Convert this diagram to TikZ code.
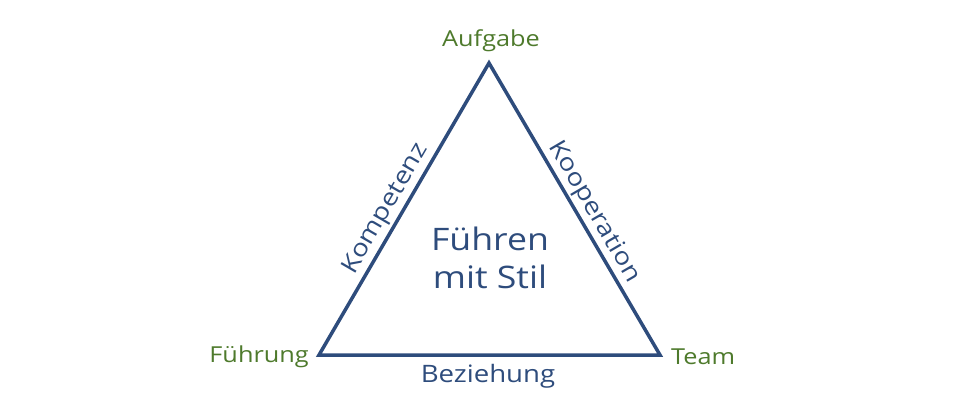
\documentclass[tikz,border=0pt]{standalone}
\usepackage{fontspec}
\setmainfont{Open Sans}[FakeStretch=1.15]
\definecolor{tblue}{HTML}{2E4C7C}
\definecolor{tgreen}{HTML}{4E7A2C}
\begin{document}
\begin{tikzpicture}[x=1pt,y=-1pt,
  corner/.style={text=tgreen,font=\fontsize{22}{26}\selectfont,inner sep=0pt},
  edgelab/.style={text=tblue,font=\fontsize{24}{28}\selectfont,inner sep=0pt},
  center/.style={text=tblue,font=\fontsize{31}{38}\selectfont,align=center,inner sep=0pt},
  side/.style={draw=tblue,line width=3.5pt,line join=miter}]
\useasboundingbox (0,0) rectangle (980,400);
\coordinate (T) at (489,63);
\coordinate (L) at (319,355);
\coordinate (R) at (660,355);
\draw[side] (T) -- (L) -- (R) -- cycle;
\node[corner] (aufgabe) at (491,41) {Aufgabe};
\node[corner,anchor=east] (fuehrung) at (309,357) {Führung};
\node[corner,anchor=west] (team) at (671,357) {Team};
\node[edgelab] (bez) at (488,376) {Beziehung};
\node[edgelab,rotate=59.8] (komp) at (386,209) {Kompetenz};
\node[edgelab,rotate=-59.7] (koop) at (594,212) {Kooperation};
\node[center] (mid) at (490,258) {Führen\\mit Stil};
\end{tikzpicture}
\end{document}
